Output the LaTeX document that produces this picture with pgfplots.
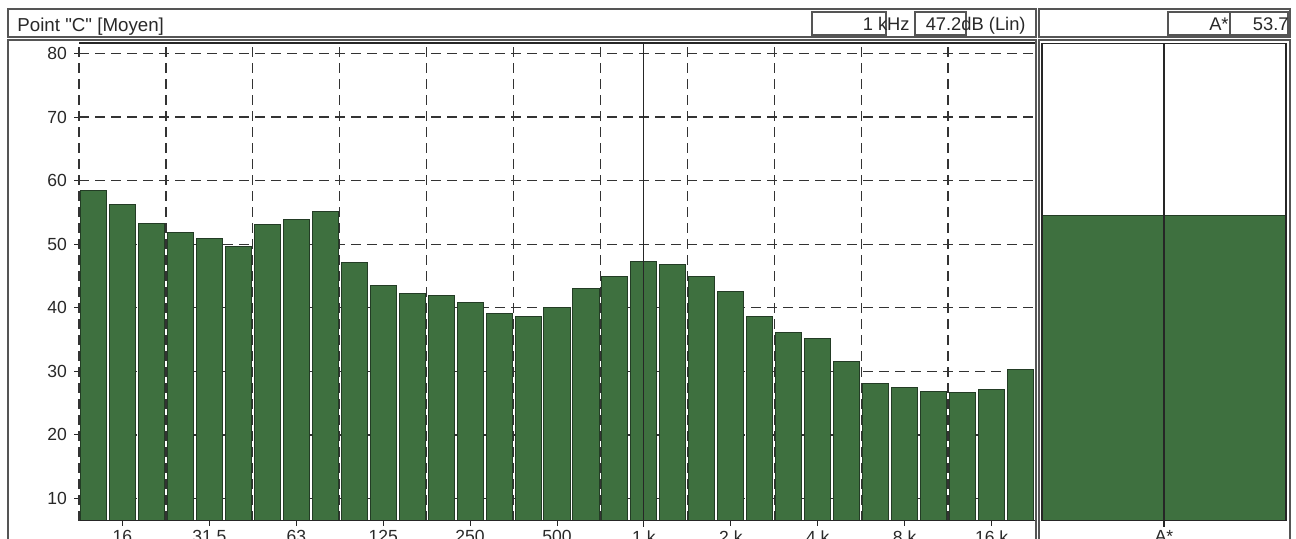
\documentclass[border=0pt]{standalone}
\usepackage{pgfplots}
\pgfplotsset{compat=1.18}
\usepackage{pgfplotstable}
\usepackage{fontspec}
\setmainfont{Liberation Sans}[Ligatures=TeXOff]
\definecolor{barg}{RGB}{62,112,63}
\definecolor{bard}{RGB}{35,60,37}
\definecolor{frm}{RGB}{85,85,85}
\definecolor{txt}{RGB}{40,40,40}
\pgfplotstableread{
x y
0 58.4
1 56.3
2 53.3
3 51.8
4 50.9
5 49.7
6 53.1
7 53.9
8 55.1
9 47.1
10 43.5
11 42.3
12 41.9
13 40.8
14 39.1
15 38.6
16 40.1
17 43.0
18 44.9
19 47.2
20 46.8
21 44.9
22 42.5
23 38.6
24 36.1
25 35.2
26 31.5
27 28.1
28 27.4
29 26.8
30 26.6
31 27.1
32 30.3
}\bands
\begin{document}
\begin{tikzpicture}[x=0.5bp,y=0.5bp,font=\fontsize{8.8}{10}\selectfont]
\useasboundingbox (0,0) rectangle (1296,539);
\clip (0,0) rectangle (1296,539);
% panel frames
\draw[frm,line width=0.8bp] (8,530) rectangle (1036,502);
\draw[frm,line width=0.8bp] (1039,530) rectangle (1290,502);
\draw[frm,line width=0.8bp] (8,499) rectangle (1036,-61);
\draw[frm,line width=0.8bp] (1039,499) rectangle (1290,-61);
% header boxes
\draw[frm,line width=0.6bp] (812,527) rectangle (886,504);
\draw[frm,line width=0.6bp] (915,527) rectangle (966,504);
\draw[frm,line width=0.6bp] (1168,527) rectangle (1230,504);
\draw[frm,line width=0.6bp] (1230,527) rectangle (1288,504);
\node[anchor=base west,inner sep=0,text=txt,font=\fontsize{9.4}{10}\selectfont] at (17,507) {Point "C" [Moyen]};
\node[anchor=base east,inner sep=0,text=txt,font=\fontsize{9.2}{10}\selectfont] at (910,508) {1 kHz};
\node[anchor=base east,inner sep=0,text=txt,font=\fontsize{9.2}{10}\selectfont] at (1026,508) {47.2dB (Lin)};
\node[anchor=base east,inner sep=0,text=txt,font=\fontsize{9.2}{10}\selectfont] at (1229,508) {A*};
\node[anchor=base east,inner sep=0,text=txt,font=\fontsize{9.2}{10}\selectfont] at (1289,508) {53.7};
% main spectrum
\begin{axis}[at={(39.5bp,247.85bp)},anchor=north west,scale only axis,
  width=478bp,height=238.7bp,
  xmin=-0.5,xmax=32.5,ymin=6.5,ymax=81.6,
  ybar,bar width=0.9,bar shift=0pt,
  clip mode=individual,
  axis line style={draw=none},
  xtick={1,4,...,31},
  xticklabels={16,31.5,63,125,250,500,1 k,2 k,4 k,8 k,16 k},
  xticklabel style={yshift=1bp},
  extra x ticks={2.5,5.5,...,29.5},
  extra x tick labels={},
  extra x tick style={xmajorgrids=true,major tick length=0pt},
  ytick={10,20,...,80},
  ymajorgrids=true,
  major grid style={black!80,line width=0.65bp,dash pattern=on 5bp off 3bp},
  tick align=outside,tick pos=left,major tick length=2.5bp,
  tick style={black!85,line width=0.5bp},
  ticklabel style={font=\fontsize{8.8}{10}\selectfont,text=txt},
  /pgf/number format/assume math mode=true,
]
\addplot[fill=barg,draw=bard,line width=0.5bp] table[x=x,y=y]{\bands};
\draw[black!85,line width=0.8bp] (rel axis cs:0,1) -- (rel axis cs:1,1);
\draw[black!85,line width=0.8bp] (rel axis cs:0,0) -- (rel axis cs:1,0);
\draw[black!80,line width=0.65bp,dash pattern=on 5bp off 3bp] (rel axis cs:0,0) -- (rel axis cs:0,1);
\draw[black!85,line width=0.55bp] (axis cs:19,6.5) ++(0pt,-3bp) -- (axis cs:19,81.6);
\end{axis}
% overall A* panel
\begin{axis}[at={(521bp,247.85bp)},anchor=north west,scale only axis,
  width=122bp,height=238.7bp,
  xmin=-0.5,xmax=0.5,ymin=6.5,ymax=80.4,
  ybar,bar width=1,bar shift=0pt,
  clip mode=individual,
  axis line style={draw=none},
  xtick={0},xticklabels={A*},
  xticklabel style={yshift=1bp},
  ytick=\empty,
  tick align=outside,tick pos=left,major tick length=2.5bp,
  tick style={black!85,line width=0.5bp},
  ticklabel style={font=\fontsize{8.8}{10}\selectfont,text=txt},
]
\addplot[fill=barg,draw=bard,line width=0.5bp] coordinates {(0,53.7)};
\draw[black!85,line width=0.7bp] (rel axis cs:0,0) rectangle (rel axis cs:1,1);
\draw[black!85,line width=0.55bp] (axis cs:0,6.5) ++(0pt,-3bp) -- (axis cs:0,80.4);
\end{axis}
\end{tikzpicture}
\end{document}
